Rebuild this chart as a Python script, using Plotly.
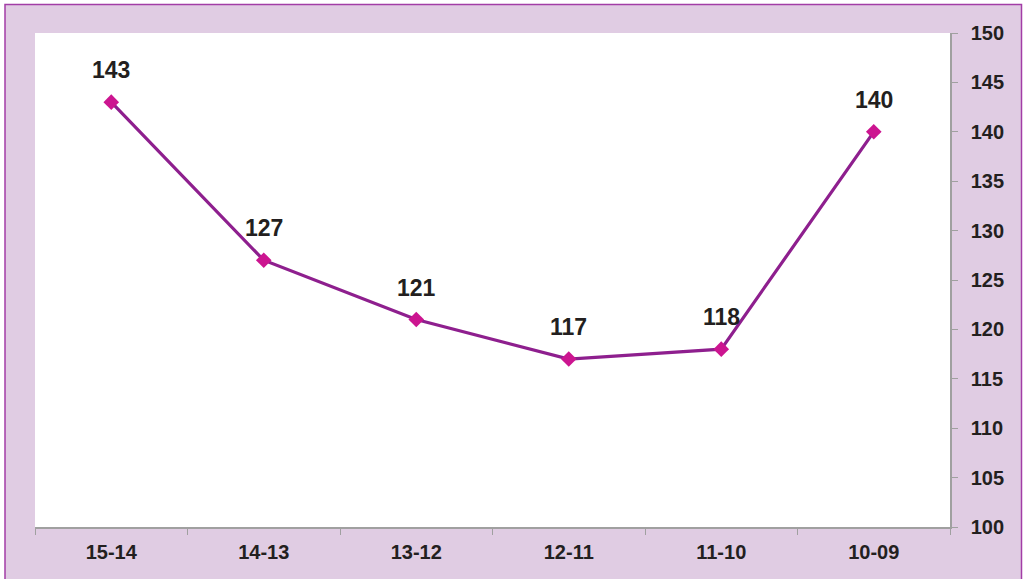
import plotly.graph_objects as go

categories = ["15-14", "14-13", "13-12", "12-11", "11-10", "10-09"]
values = [143, 127, 121, 117, 118, 140]
y_ticks = [100, 105, 110, 115, 120, 125, 130, 135, 140, 145, 150]

W, H = 1026, 579
L, R, T, B = 35, 950, 33, 527  # plot area in pixels
pw, ph = R - L, B - T

def px_x(p):
    return (p - L) / pw

def px_y(p):
    return (B - p) / ph

fig = go.Figure()
fig.add_trace(go.Scatter(
    x=categories, y=values, mode="lines+markers",
    line=dict(color="#8E1F8E", width=3.2),
    marker=dict(symbol="diamond", size=12, color="#CC1590", line=dict(width=0)),
    showlegend=False, hoverinfo="skip",
))

for c, v in zip(categories, values):
    fig.add_annotation(x=c, y=v, text=str(v), showarrow=False, yshift=32,
                       font=dict(family="Liberation Sans, Arial", size=23, color="#231F20", weight="bold"))

# outer purple panel with border
fig.add_shape(type="rect", xref="paper", yref="paper",
              x0=px_x(5), x1=px_x(1021.5), y0=px_y(585), y1=px_y(4.5),
              fillcolor="#E0CCE3", line=dict(color="#A23DA6", width=1.5), layer="below")
# white plot area
fig.add_shape(type="rect", xref="paper", yref="paper",
              x0=0, x1=1, y0=0, y1=1,
              fillcolor="white", line=dict(width=0), layer="below")

tickfont = dict(family="Liberation Sans, Arial", size=20, color="#231F20", weight="bold")
fig.update_layout(
    width=W, height=H,
    margin=dict(l=L, r=W - R, t=T, b=H - B),
    paper_bgcolor="white", plot_bgcolor="rgba(0,0,0,0)",
    xaxis=dict(type="category", range=[-0.5, 5.5], showgrid=False, zeroline=False,
               showline=True, linecolor="#A0A0A0", linewidth=1.5,
               ticks="outside", tickson="boundaries", ticklen=6, tickcolor="#A0A0A0",
               tickfont=tickfont, ticklabelstandoff=6),
    yaxis=dict(side="right", range=[100, 150], tickvals=y_ticks, showgrid=False, zeroline=False,
               showline=True, linecolor="#A0A0A0", linewidth=1.5,
               ticks="outside", ticklen=6, tickcolor="#A0A0A0",
               tickfont=tickfont, ticklabelstandoff=9),
)

fig.write_html("out.html", config={"displayModeBar": False},
               post_script="document.body.style.margin='0';")
